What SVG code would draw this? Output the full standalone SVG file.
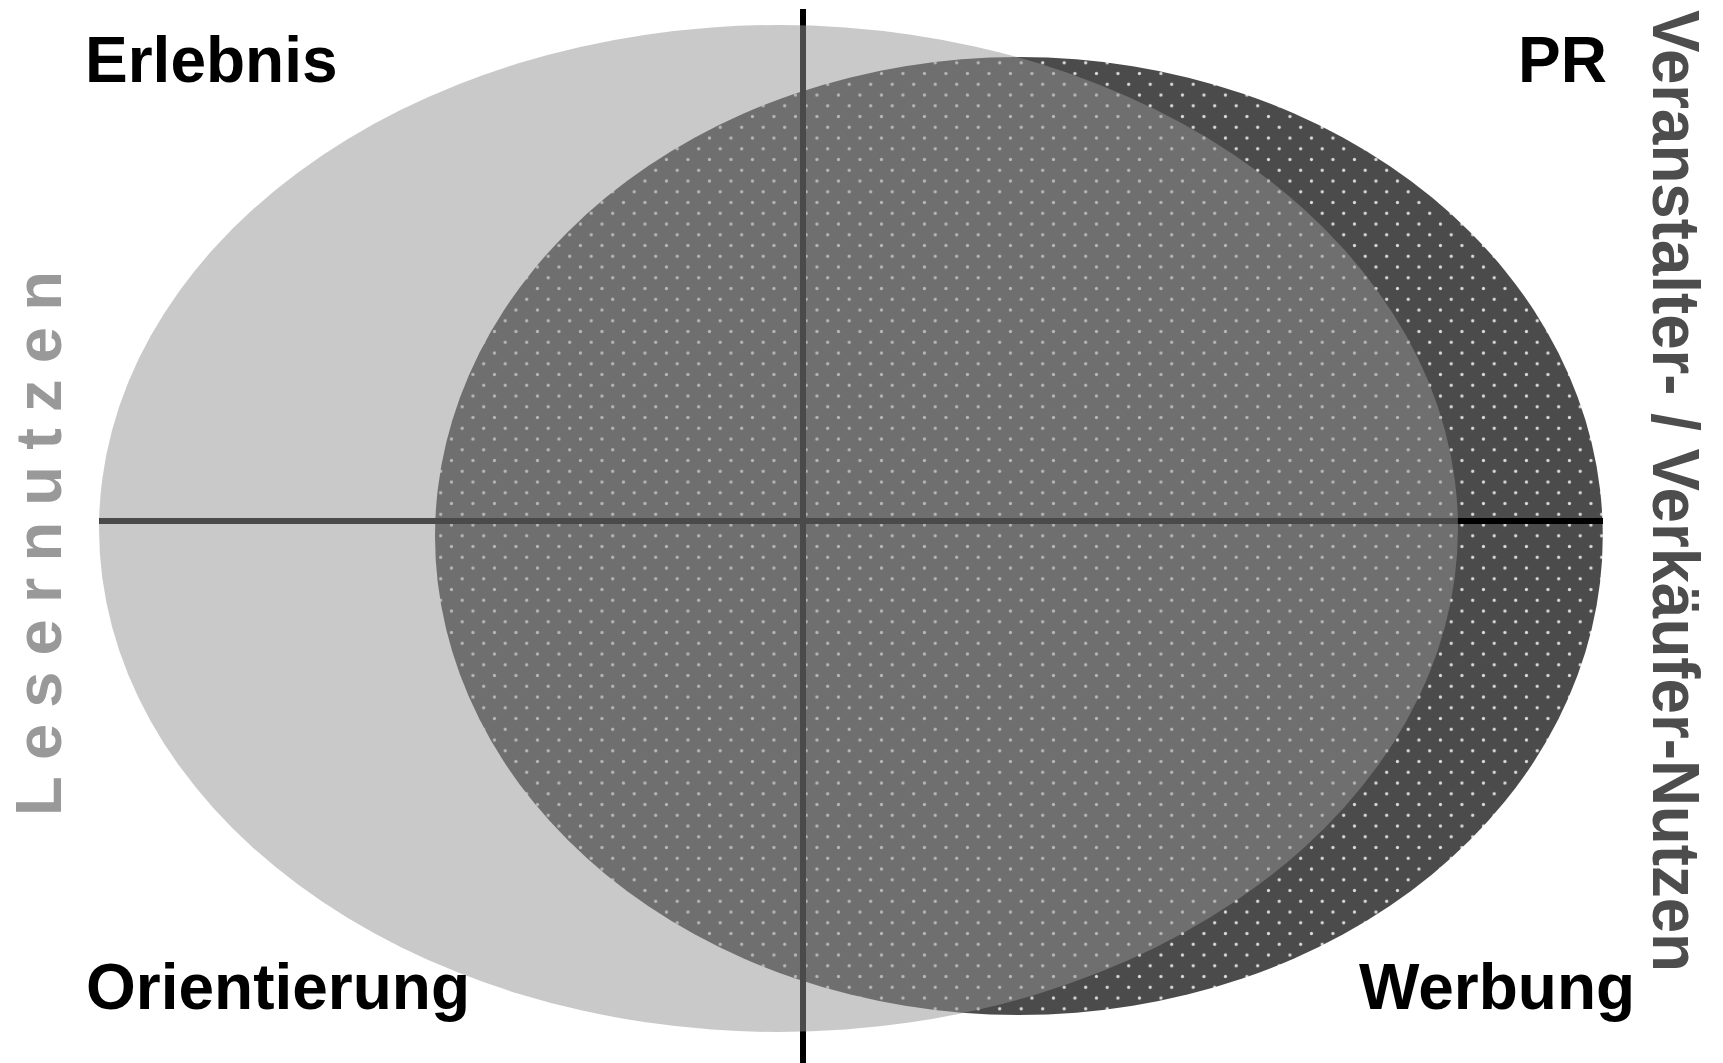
<svg xmlns="http://www.w3.org/2000/svg" width="1723" height="1063" viewBox="0 0 1723 1063">
  <defs>
    <pattern id="dots" patternUnits="userSpaceOnUse" x="5.325" y="14.425" width="21.5" height="21.5">
      <rect width="21.5" height="21.5" fill="#4b4b4b"/>
      <circle cx="5.375" cy="5.375" r="1.6" fill="#dcdcdc"/>
      <circle cx="16.125" cy="16.125" r="1.6" fill="#dcdcdc"/>
    </pattern>
  </defs>
  <style>
    .lbl { font-family: "Liberation Sans", Arial, sans-serif; font-weight: bold; font-size: 64px; fill: #000; }
    .axis { stroke: #000; stroke-width: 6; fill: none; }
    .side { font-family: "Liberation Sans", Arial, sans-serif; font-weight: bold; }
  </style>
  <rect width="1723" height="1063" fill="#fff"/>
  <g id="verkaeufer-ellipse">
    <ellipse cx="1018.9" cy="536" rx="583.9" ry="479" fill="url(#dots)"/>
  </g>
  <g id="axes">
    <line class="axis" x1="803" y1="9" x2="803" y2="1063"/>
    <line class="axis" x1="99" y1="521" x2="1603" y2="521"/>
  </g>
  <g id="leser-ellipse">
    <ellipse cx="778.5" cy="528.5" rx="679.5" ry="503.5" fill="#939393" fill-opacity="0.5"/>
  </g>
  <g id="erlebnis"><text class="lbl" x="85" y="82">Erlebnis</text></g>
  <g id="pr"><text class="lbl" x="1518" y="82">PR</text></g>
  <g id="orientierung"><text class="lbl" x="86" y="1009">Orientierung</text></g>
  <g id="werbung"><text class="lbl" x="1359" y="1009">Werbung</text></g>
  <g id="lesernutzen">
    <text class="side" font-size="65" fill="#999999" letter-spacing="16.2" transform="translate(61,816) rotate(-90)">Lesernutzen</text>
  </g>
  <g id="veranstalter-nutzen">
    <text class="side" font-size="67" fill="#4d4d4d" textLength="962" lengthAdjust="spacingAndGlyphs" transform="translate(1653,10) rotate(90)">Veranstalter- / Verkäufer-Nutzen</text>
  </g>
</svg>
